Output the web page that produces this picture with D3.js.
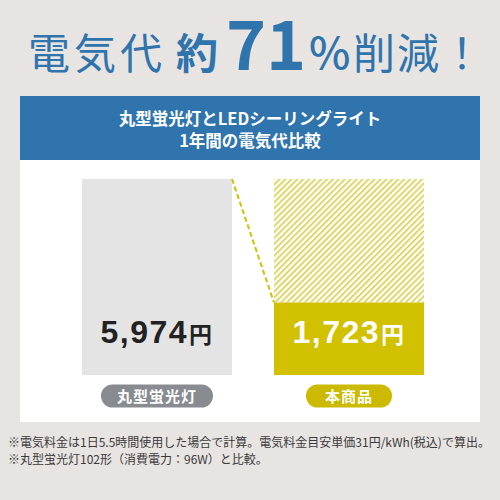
<!DOCTYPE html>
<html>
<head>
<meta charset="utf-8">
<script src="https://cdn.jsdelivr.net/npm/d3@7"></script>
<style>
  body { margin: 0; background: #e8e4e2; }
  svg { display: block; }
</style>
</head>
<body>
<script>
"use strict";

// data
var categories = ["丸型蛍光灯", "本商品"];
var costs = [5974, 1723];
var valueLabels = ["5,974", "1,723"];
var headerLines = ["丸型蛍光灯とLEDシーリングライト", "1年間の電気代比較"];
var notes = [
  "※電気料金は1日5.5時間使用した場合で計算。電気料金目安単価31円/kWh(税込)で算出。",
  "※丸型蛍光灯102形（消費電力：96W）と比較。"
];

var width = 500, height = 500;
var blue = "#2f74ad", olive = "#d2c100", jp = "'Noto Sans CJK JP', sans-serif";

var svg = d3.select("body").append("svg")
    .attr("width", width)
    .attr("height", height);

svg.append("rect").attr("width", width).attr("height", height).attr("fill", "#e8e4e2");

// title
var title = svg.append("g").attr("fill", blue).attr("font-family", jp);
title.append("text").attr("x", 28).attr("y", 69).attr("font-size", 42)
    .attr("letter-spacing", 4).text("電気代");
title.append("text").attr("x", 176).attr("y", 69).attr("font-size", 42)
    .attr("font-weight", 700).text("約");
title.append("text").attr("x", 226).attr("y", 70).attr("font-size", 68)
    .attr("font-weight", 700).text("7");
title.append("text").attr("x", 266).attr("y", 70).attr("font-size", 68)
    .attr("font-weight", 700).text("1");
title.append("text").attr("x", 309).attr("y", 69).attr("font-size", 44)
    .attr("font-weight", 500).text("%");
title.append("text").attr("x", 353).attr("y", 69).attr("font-size", 42)
    .attr("letter-spacing", 2).text("削減！");

// panel
svg.append("rect").attr("x", 20).attr("y", 96).attr("width", 460).attr("height", 64).attr("fill", blue);
svg.append("rect").attr("x", 20).attr("y", 160).attr("width", 460).attr("height", 262).attr("fill", "#ffffff");

svg.append("g").selectAll("text").data(headerLines).join("text")
    .attr("x", 250)
    .attr("y", function(d, i) { return 125 + i * 22; })
    .attr("text-anchor", "middle")
    .attr("font-family", jp)
    .attr("font-weight", 700)
    .attr("font-size", 16.5)
    .attr("fill", "#fff")
    .text(function(d) { return d; });

// hatch pattern
var defs = svg.append("defs");
var pat = defs.append("pattern")
    .attr("id", "hatch")
    .attr("patternUnits", "userSpaceOnUse")
    .attr("width", 4.2).attr("height", 4.2)
    .attr("patternTransform", "rotate(45)");
pat.append("rect").attr("width", 4.2).attr("height", 4.2).attr("fill", "#fff");
pat.append("line").attr("x1", 1).attr("y1", 0).attr("x2", 1).attr("y2", 4.2)
    .attr("stroke", "#dfd76a").attr("stroke-width", 2);

// scales
var x = d3.scaleBand()
    .domain(categories)
    .range([82, 424])
    .paddingInner(0.21875)
    .paddingOuter(0);

var y = d3.scalePow().exponent(0.8)
    .domain([0, costs[0]])
    .range([375, 179]);

var bars = svg.append("g");

// hatched area on the second bar (amount saved)
bars.append("rect")
    .attr("x", x(categories[1]))
    .attr("y", y(costs[0]))
    .attr("width", x.bandwidth())
    .attr("height", y(costs[1]) - y(costs[0]))
    .attr("fill", "url(#hatch)");

bars.selectAll("rect.bar").data(costs).join("rect")
    .attr("class", "bar")
    .attr("x", function(d, i) { return x(categories[i]); })
    .attr("y", function(d) { return y(d); })
    .attr("width", x.bandwidth())
    .attr("height", function(d) { return y(0) - y(d); })
    .attr("fill", function(d, i) { return i === 0 ? "#e4e4e4" : olive; });

// dashed connector
svg.append("line")
    .attr("x1", x(categories[0]) + x.bandwidth())
    .attr("y1", y(costs[0]))
    .attr("x2", x(categories[1]))
    .attr("y2", y(costs[1]))
    .attr("stroke", olive)
    .attr("stroke-width", 2)
    .attr("stroke-dasharray", "5,3");

// value labels
var vl = svg.append("g").selectAll("text").data(costs).join("text")
    .attr("x", function(d, i) { return x(categories[i]) + x.bandwidth() / 2; })
    .attr("y", 343)
    .attr("text-anchor", "middle")
    .attr("fill", function(d, i) { return i === 0 ? "#222" : "#fff"; })
    .attr("font-family", "'Liberation Sans', Arial, sans-serif")
    .attr("font-weight", 700)
    .attr("font-size", 32)
    .attr("letter-spacing", 1.5);
vl.append("tspan").text(function(d, i) { return valueLabels[i]; });
vl.append("tspan").attr("font-family", jp).attr("font-size", 23).attr("dx", 1).text("円");

// category pills
var pillW = [112, 86];
var pills = svg.append("g").selectAll("g").data(categories).join("g")
    .attr("transform", function(d) { return "translate(" + (x(d) + x.bandwidth() / 2) + ",396)"; });
pills.append("rect")
    .attr("x", function(d, i) { return -pillW[i] / 2; })
    .attr("y", -11.5)
    .attr("width", function(d, i) { return pillW[i]; })
    .attr("height", 23)
    .attr("rx", 11.5)
    .attr("fill", function(d, i) { return i === 0 ? "#888b90" : "#cbba00"; });
pills.append("text")
    .attr("y", 5.5)
    .attr("text-anchor", "middle")
    .attr("fill", "#fff")
    .attr("font-family", jp)
    .attr("font-weight", 700)
    .attr("font-size", 15)
    .attr("letter-spacing", 1)
    .text(function(d) { return d; });

// footnotes
svg.append("g").selectAll("text").data(notes).join("text")
    .attr("x", 8)
    .attr("y", function(d, i) { return 447 + i * 16.5; })
    .attr("fill", "#3a3a3a")
    .attr("font-family", jp)
    .attr("font-size", 12)
    .text(function(d) { return d; });
</script>
</body>
</html>
